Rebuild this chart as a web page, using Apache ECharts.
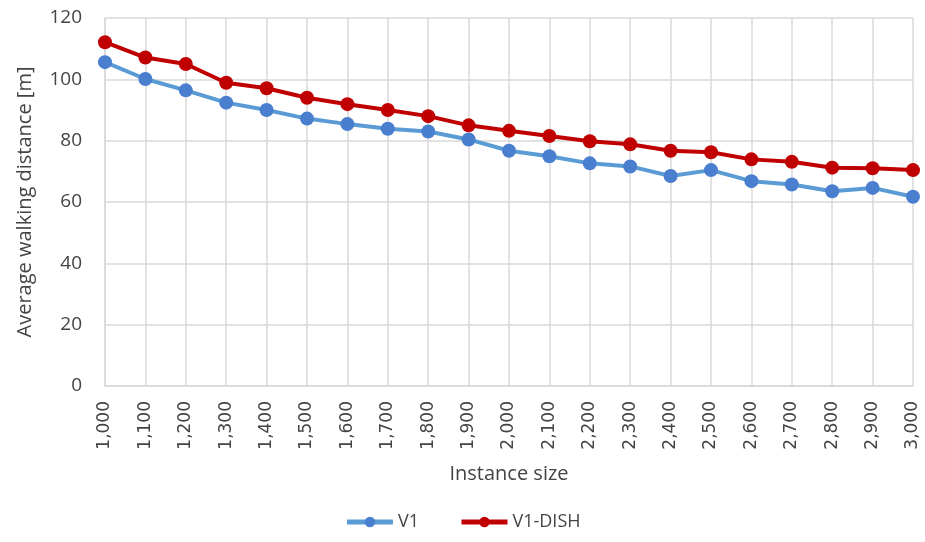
<!DOCTYPE html>
<html>
<head>
<meta charset="utf-8">
<script src="https://cdn.jsdelivr.net/npm/echarts@6/dist/echarts.min.js"></script>
<style>
  html, body { margin: 0; padding: 0; background: #fff; }
  #chart { width: 925px; height: 542px; }
</style>
</head>
<body>
<div id="chart"></div>
<script>
// Instance sizes on the x axis
const instanceSizes = ['1,000', '1,100', '1,200', '1,300', '1,400', '1,500', '1,600', '1,700', '1,800', '1,900', '2,000',
  '2,100', '2,200', '2,300', '2,400', '2,500', '2,600', '2,700', '2,800', '2,900', '3,000'];

// Average walking distance [m] per instance size
const v1 = [105.6, 100.1, 96.4, 92.4, 90.0, 87.2, 85.4, 83.9, 83.0, 80.4, 76.7,
  74.9, 72.6, 71.6, 68.5, 70.4, 66.8, 65.7, 63.5, 64.6, 61.7];
const v1Dish = [112.1, 107.1, 105.0, 98.9, 97.1, 94.0, 91.9, 90.0, 88.0, 85.0, 83.2,
  81.5, 79.8, 78.8, 76.7, 76.2, 73.9, 73.1, 71.2, 71.0, 70.4];

const yTicks = { min: 0, max: 120, interval: 20 };

const font = '"Open Sans", sans-serif';
const tickFont = '"DejaVu Sans", sans-serif';
const textColor = '#444444';
const gridColor = '#d9d9d9';

const chart = echarts.init(document.getElementById('chart'));
chart.setOption({
  animation: false,
  backgroundColor: '#ffffff',
  grid: { left: 105, right: 12, top: 18, bottom: 156, containLabel: false },
  xAxis: {
    type: 'category',
    data: instanceSizes,
    boundaryGap: false,
    name: 'Instance size',
    nameLocation: 'middle',
    nameGap: 78,
    nameTextStyle: { fontFamily: font, fontSize: 20, color: textColor },
    axisLine: { lineStyle: { color: gridColor, width: 1.5 } },
    axisTick: { show: false },
    axisLabel: { rotate: 90, margin: 15, fontFamily: tickFont, fontSize: 17, color: textColor },
    splitLine: { show: true, lineStyle: { color: gridColor, width: 1.5 } }
  },
  yAxis: {
    type: 'value',
    min: yTicks.min,
    max: yTicks.max,
    interval: yTicks.interval,
    name: 'Average walking distance [m]',
    nameLocation: 'middle',
    nameGap: 70,
    nameTextStyle: { fontFamily: font, fontSize: 20, color: textColor },
    axisLine: { show: true, lineStyle: { color: gridColor, width: 1.5 } },
    axisTick: { show: false },
    axisLabel: { margin: 23, fontFamily: font, fontSize: 19, color: textColor },
    splitLine: { show: true, lineStyle: { color: gridColor, width: 1.5 } }
  },
  legend: {
    bottom: 6,
    left: 'center',
    itemWidth: 46,
    itemHeight: 13,
    itemGap: 40,
    lineStyle: { width: 5 },
    textStyle: { fontFamily: font, fontSize: 18, color: textColor },
    data: ['V1', 'V1-DISH']
  },
  series: [
    {
      name: 'V1',
      type: 'line',
      data: v1,
      symbol: 'circle',
      symbolSize: 14,
      lineStyle: { color: '#5b9bd5', width: 4 },
      itemStyle: { color: '#4a7fcf' }
    },
    {
      name: 'V1-DISH',
      type: 'line',
      data: v1Dish,
      symbol: 'circle',
      symbolSize: 14,
      lineStyle: { color: '#c00000', width: 4 },
      itemStyle: { color: '#c00000' }
    }
  ]
});
</script>
</body>
</html>
